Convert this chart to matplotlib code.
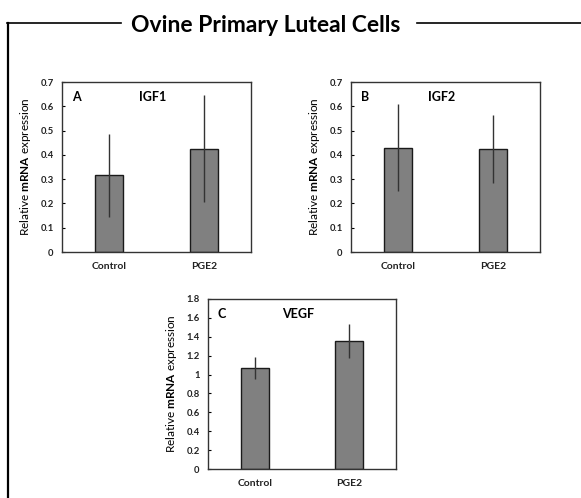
import matplotlib
matplotlib.use("Agg")
import matplotlib.pyplot as plt
from matplotlib.lines import Line2D

plt.rcParams['font.family'] = ['Lato', 'DejaVu Sans']
plt.rcParams['mathtext.fontset'] = 'custom'
plt.rcParams['mathtext.rm'] = 'Lato'
plt.rcParams['mathtext.bf'] = 'Lato:bold'

categories = ["Control", "PGE2"]
igf1_vals = [0.315, 0.425]
igf1_err = [0.17, 0.22]
igf2_vals = [0.43, 0.425]
igf2_err = [0.18, 0.14]
vegf_vals = [1.07, 1.35]
vegf_err = [0.115, 0.18]
igf_ticks = [0, 0.1, 0.2, 0.3, 0.4, 0.5, 0.6, 0.7]
igf_ticklabels = ["0", "0.1", "0.2", "0.3", "0.4", "0.5", "0.6", "0.7"]
vegf_ticks = [0, 0.2, 0.4, 0.6, 0.8, 1.0, 1.2, 1.4, 1.6, 1.8]
vegf_ticklabels = ["0", "0.2", "0.4", "0.6", "0.8", "1", "1.2", "1.4", "1.6", "1.8"]

W, H = 581, 498
fig = plt.figure(figsize=(W / 100, H / 100), dpi=100)


def ax_at(x0, y0, x1, y1):
    return fig.add_axes([x0 / W, 1 - y1 / H, (x1 - x0) / W, (y1 - y0) / H])


def panel(ax, vals, errs, ymax, ticks, ticklabels, letter, gene):
    x = list(range(len(categories)))
    ax.bar(x, vals, width=0.3, color="#808080", edgecolor="#1a1a1a", linewidth=1.0, zorder=2)
    ax.errorbar(x, vals, yerr=errs, fmt="none", ecolor="#333333", elinewidth=1.0, capsize=0, zorder=3)
    ax.set_xlim(-0.5, 1.5)
    ax.set_ylim(0, ymax)
    ax.set_yticks(ticks)
    ax.set_yticklabels(ticklabels, fontsize=6.8, fontweight="bold", color="#222222")
    ax.set_xticks(x)
    ax.set_xticklabels(categories, fontsize=7.5, fontweight="bold", color="#222222")
    ax.tick_params(axis="y", direction="in", length=2.5, width=0.8, pad=6)
    ax.tick_params(axis="x", length=0, pad=7)
    for s in ax.spines.values():
        s.set_linewidth(1.0)
        s.set_color("#333333")
    ax.set_ylabel(r"Relative $\mathbf{mRNA}$ expression", fontsize=8.5, labelpad=5)
    ax.text(0.075, 0.91, letter, transform=ax.transAxes, fontsize=9, fontweight="bold",
            ha="center", va="center")
    ax.text(0.48, 0.91, gene, transform=ax.transAxes, fontsize=9, fontweight="bold",
            ha="center", va="center")


axA = ax_at(62, 82, 251, 252)
panel(axA, igf1_vals, igf1_err, 0.7, igf_ticks, igf_ticklabels, "A", "IGF1")
axB = ax_at(351, 82, 540, 252)
panel(axB, igf2_vals, igf2_err, 0.7, igf_ticks, igf_ticklabels, "B", "IGF2")
axC = ax_at(208, 299, 396, 469)
panel(axC, vegf_vals, vegf_err, 1.8, vegf_ticks, vegf_ticklabels, "C", "VEGF")

# outer frame and title
fig.add_artist(Line2D([7 / W, 121 / W], [1 - 23 / H, 1 - 23 / H], color="black", lw=1.2))
fig.add_artist(Line2D([417 / W, 1.0], [1 - 23 / H, 1 - 23 / H], color="black", lw=1.2))
fig.add_artist(Line2D([8 / W, 8 / W], [1 - 23 / H, 0], color="black", lw=1.6))
fig.text(266 / W, 1 - 25 / H, "Ovine Primary Luteal Cells", fontsize=16.5, fontweight="bold",
         ha="center", va="center")

fig.savefig("out.png", dpi=100)
